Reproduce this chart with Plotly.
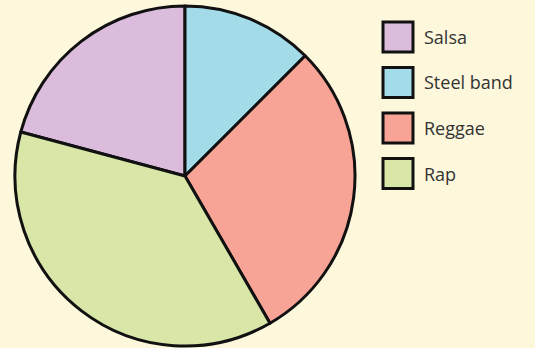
import plotly.graph_objects as go

labels = ["Salsa", "Steel band", "Reggae", "Rap"]
values = [5, 3, 7, 9]
colors = ["#dbbcdc", "#a3dbe8", "#f7a395", "#d8e6a8"]

W, H = 535, 348
bg = "#fdf8dc"

fig = go.Figure()
fig.add_trace(go.Pie(
    labels=labels, values=values, sort=False, direction="clockwise",
    rotation=-75,
    marker=dict(colors=colors, line=dict(color="#111111", width=3)),
    textinfo="none", hoverinfo="label+value", showlegend=False,
    domain=dict(x=[15 / W, 355 / W], y=[1 - 346 / H, 1 - 6 / H]),
))

shapes = []
annotations = []
for i, lab in enumerate(labels):
    y0 = 22 + i * 45.5
    shapes.append(dict(type="rect", xref="paper", yref="paper",
                       x0=383 / W, x1=413 / W, y0=1 - (y0 + 30) / H, y1=1 - y0 / H,
                       fillcolor=colors[i], line=dict(color="#111111", width=3)))
    annotations.append(dict(text=lab, xref="paper", yref="paper",
                            x=422 / W, y=1 - (y0 + 15) / H, xanchor="left", yanchor="middle",
                            showarrow=False, font=dict(size=18, color="#333333", family="Open Sans")))

fig.update_layout(width=W, height=H, margin=dict(l=0, r=0, t=0, b=0),
                  paper_bgcolor=bg, plot_bgcolor=bg,
                  shapes=shapes, annotations=annotations)
fig.write_html("out.html", config={"displayModeBar": False},
               post_script="document.body.style.margin='0';document.body.style.background='%s';" % bg)
